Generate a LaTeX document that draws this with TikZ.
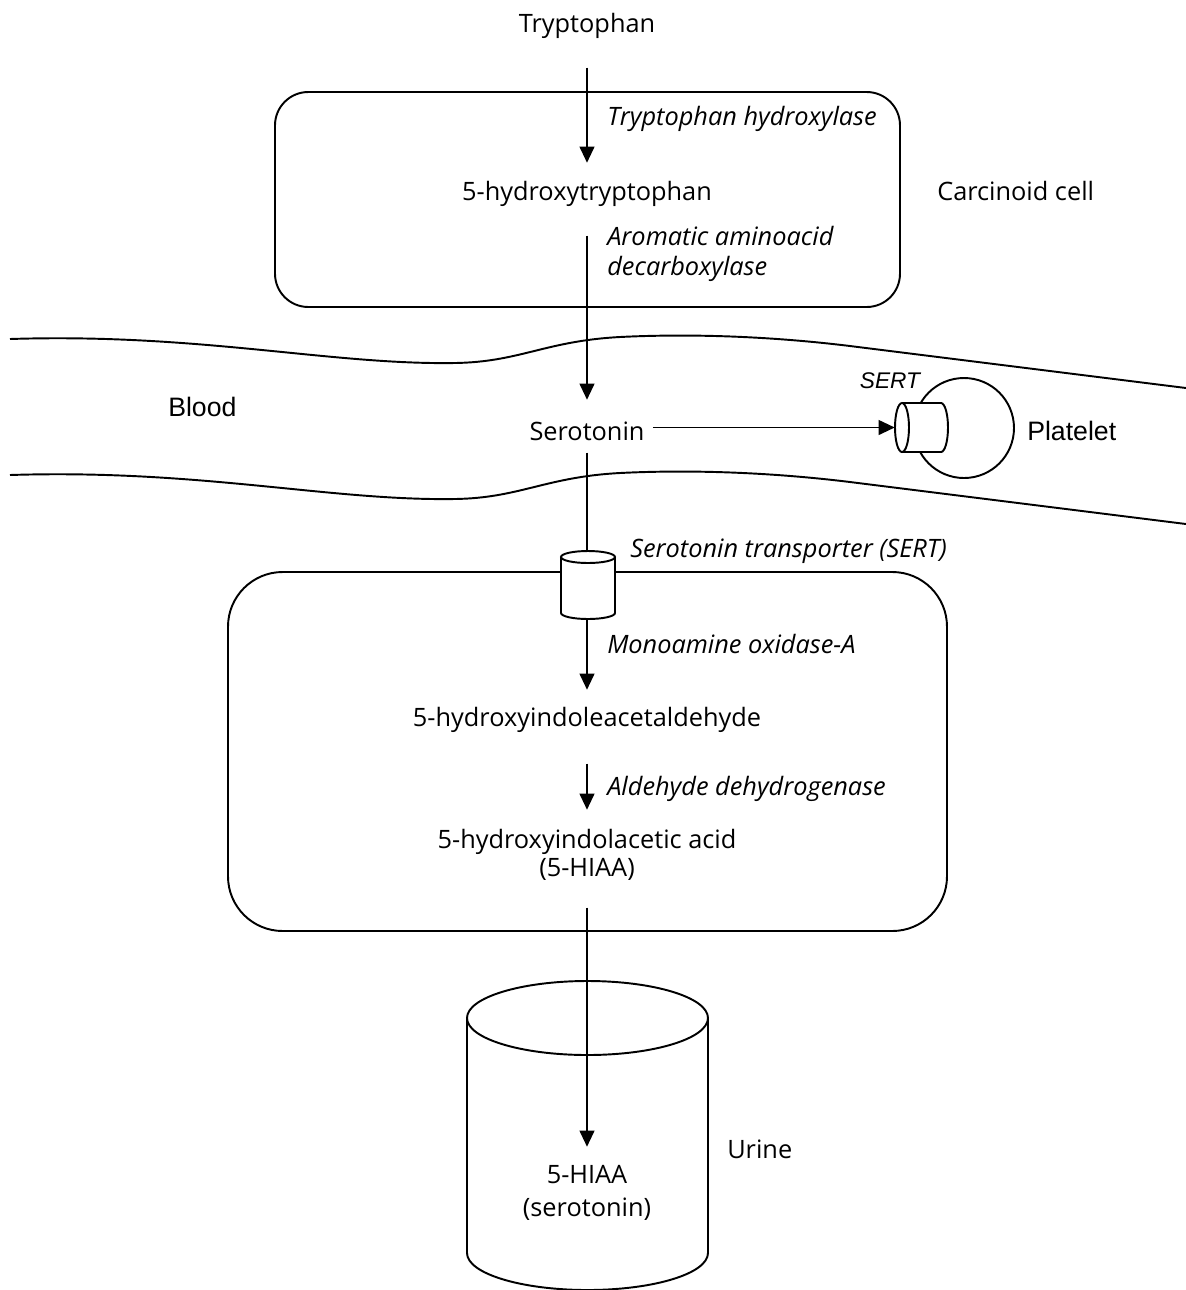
\documentclass[tikz,border=0pt]{standalone}
\usepackage{fontspec}
\setmainfont{Open Sans}
\newfontfamily\arialf{Liberation Sans}
\usetikzlibrary{arrows.meta}
\begin{document}
\begin{tikzpicture}[x=0.75pt,y=-0.75pt,
  lbl/.style={inner sep=0pt, text height=13.5pt, text depth=4pt, anchor=base, font=\fontsize{19}{22.5}\selectfont},
  enz/.style={lbl, anchor=base west, font=\fontsize{19}{22.5}\selectfont\itshape},
  arl/.style={inner sep=0pt, anchor=base west, font=\arialf\fontsize{20}{24}\selectfont},
  ln/.style={line width=1.45pt},
  arr/.style={ln, -{Triangle[length=12pt,width=11pt]}},
  hook/.style={inner sep=0pt, draw=none}
]
\useasboundingbox (0,0) rectangle (1186,1290);

% compartments
\draw[ln, rounded corners=25pt] (275,92) rectangle (900,307);
\draw[ln, rounded corners=41pt] (228,572) rectangle (947,931);
\foreach \d in {0,136}{
  \draw[ln] (10,339+\d) .. controls (200,333+\d) and (330,365+\d) .. (455,363+\d)
     .. controls (520,362+\d) and (545,341+\d) .. (620,337+\d)
     .. controls (680,334+\d) and (760,335+\d) .. (850,346+\d) -- (1186,388+\d);
}

% platelet with SERT
\draw[ln] (964,428) circle[radius=50];
\fill[white] (902,403) -- (941,403) arc[start angle=-90, end angle=90, x radius=7, y radius=24.5] -- (902,452) -- cycle;
\draw[ln] (902,403) -- (941,403) arc[start angle=-90, end angle=90, x radius=7, y radius=24.5] -- (902,452);
\draw[ln, fill=white] (902,427.5) ellipse[x radius=7, y radius=24.5];
\node[hook, minimum width=39.75pt, minimum height=36.75pt] (sertp) at (921.5,427.5) {};

% small SERT cylinder on lower cell
\fill[white] (561,557) -- (561,613) arc[start angle=180, end angle=0, x radius=27, y radius=6] -- (615,557) -- cycle;
\draw[ln] (561,557) -- (561,613) arc[start angle=180, end angle=0, x radius=27, y radius=6] -- (615,557);
\draw[ln, fill=white] (588,557) ellipse[x radius=27, y radius=6];
\node[hook, minimum width=40.5pt, minimum height=51pt] (sertc) at (587,585) {};

% urine container
\draw[ln] (467,1018) -- (467,1253) arc[start angle=180, end angle=0, x radius=120.5, y radius=37] -- (708,1018);
\draw[ln] (587.5,1018) ellipse[x radius=120.5, y radius=37];

% texts
\node[lbl] (tryp) at (587,32) {Tryptophan};
\node[enz] (th) at (607,125) {Tryptophan hydroxylase};
\node[lbl] (htp) at (587,200) {5-hydroxytryptophan};
\node[lbl, anchor=base west] (carc) at (937,200) {Carcinoid cell};
\node[enz] (aad1) at (607,245) {Aromatic aminoacid};
\node[enz] (aad2) at (607,275) {decarboxylase};
\node[arl] (blood) at (168,416) {Blood};
\node[lbl] (sero) at (587,440) {Serotonin};
\node[arl, font=\arialf\itshape\fontsize{17}{20}\selectfont, anchor=base] (sertl) at (890,388) {SERT};
\node[arl] (plat) at (1027,440) {Platelet};
\node[enz] (sertt) at (630,557) {Serotonin transporter (SERT)};
\node[enz] (mao) at (607,653) {Monoamine oxidase-A};
\node[lbl] (hiald) at (587,726) {5-hydroxyindoleacetaldehyde};
\node[enz] (aldh) at (607,795) {Aldehyde dehydrogenase};
\node[lbl] (hiaa1) at (587,848) {5-hydroxyindolacetic acid};
\node[lbl] (hiaa2) at (587,876) {(5-HIAA)};
\node[lbl, anchor=base west] (urine) at (727,1158) {Urine};
\node[lbl] (u1) at (587,1183) {5-HIAA};
\node[lbl] (u2) at (587,1216) {(serotonin)};

% connectors
\draw[arr, shorten <=22.5pt, shorten >=14.25pt] (tryp) -- (htp);
\draw[arr, shorten <=22.5pt, shorten >=16.5pt] (htp) -- (sero);
\draw[ln, shorten <=5.25pt] (sero) -- (sertc.north);
\draw[arr, shorten >=13.5pt] (sertc.south) -- (hiald);
\draw[arr, shorten <=24pt, shorten >=15pt] (hiald) -- (hiaa1);
\draw[arr, shorten <=19.5pt, shorten >=13.5pt] (hiaa2) -- (u1);
\draw[arr, shorten <=6pt] (sero.east |- sertp.west) -- (sertp.west);
\end{tikzpicture}
\end{document}
